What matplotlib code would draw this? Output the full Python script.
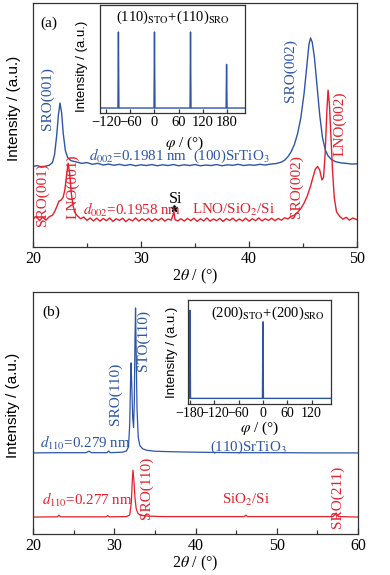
import numpy as np
import matplotlib
matplotlib.use("Agg")
import matplotlib.pyplot as plt
from matplotlib.ticker import MultipleLocator

plt.rcParams["font.family"] = ["Liberation Serif", "DejaVu Serif"]
plt.rcParams["mathtext.fontset"] = "stix"
plt.rcParams["font.size"] = 11

BLUE = "#2d55a5"
RED = "#e3202b"
FRAME = "#333333"

# ---- data ----
# panel (a): 2theta (deg), intensity (a.u., offset stacked)
a_blue = [(20.0, 33.0), (20.4, 33.4), (20.8, 32.7), (21.2, 33.2), (21.5, 33.5), (21.8, 34.6),
          (22.0, 38.0), (22.2, 46.0), (22.35, 54.0), (22.5, 59.0), (22.65, 55.0), (22.8, 46.5),
          (23.0, 39.5), (23.2, 36.8), (23.5, 35.4), (24.0, 34.9), (24.5, 34.3), (25.0, 34.6),
          (25.5, 33.9), (26.0, 34.3), (26.5, 33.6), (27.0, 34.0), (27.5, 33.5), (28.0, 33.9),
          (28.5, 33.4), (29.0, 33.8), (29.5, 33.3), (30.0, 33.7), (30.5, 33.4), (31.0, 33.8),
          (31.5, 33.3), (32.0, 33.7), (32.5, 33.4), (33.0, 33.8), (33.5, 33.3), (34.0, 33.7),
          (34.5, 33.4), (35.0, 33.8), (35.5, 33.3), (36.0, 33.6), (36.5, 33.4), (37.0, 33.8),
          (37.5, 33.3), (38.0, 33.7), (38.5, 33.5), (39.0, 33.9), (39.5, 33.4), (40.0, 33.7),
          (40.5, 33.5), (41.0, 33.9), (41.5, 33.6), (42.0, 34.0), (42.5, 34.2), (43.0, 34.8),
          (43.3, 35.6), (43.6, 37.0), (43.9, 39.0), (44.2, 42.0), (44.5, 46.5), (44.8, 53.0),
          (45.1, 63.0), (45.35, 74.0), (45.55, 83.0), (45.7, 85.7), (45.85, 84.0), (46.05, 78.0),
          (46.3, 66.0), (46.55, 54.0), (46.8, 45.0), (47.05, 40.0), (47.3, 37.5), (47.6, 36.0),
          (48.0, 35.0), (48.5, 34.5), (49.0, 34.3), (49.5, 34.0), (50.0, 34.1)]

a_red = [(20.0, 11.5), (20.3, 12.6), (20.6, 10.8), (20.9, 12.2), (21.2, 11.0), (21.5, 12.4),
         (21.8, 13.0), (22.0, 14.5), (22.2, 16.5), (22.4, 18.8), (22.6, 19.2), (22.8, 20.5),
         (22.95, 23.5), (23.1, 29.0), (23.25, 34.4), (23.4, 30.0), (23.55, 22.0), (23.7, 17.0),
         (23.9, 14.0), (24.1, 12.8), (24.4, 11.6), (24.7, 12.3), (25.0, 10.9), (25.3, 11.9),
         (25.6, 10.7), (25.9, 11.8), (26.2, 10.6), (26.5, 11.7), (26.8, 10.8), (27.1, 11.9),
         (27.4, 10.5), (27.7, 11.6), (28.0, 10.9), (28.3, 11.8), (28.6, 10.4), (28.9, 11.5),
         (29.2, 10.7), (29.5, 11.9), (29.8, 10.6), (30.1, 11.6), (30.4, 10.8), (30.7, 11.7),
         (31.0, 10.5), (31.3, 11.6), (31.6, 10.9), (31.9, 11.8), (32.2, 10.6), (32.5, 11.5),
         (32.8, 11.0), (32.95, 13.0), (33.05, 14.2), (33.15, 11.2), (33.4, 10.7), (33.7, 11.6),
         (34.0, 10.6), (34.3, 11.7), (34.6, 10.8), (34.9, 11.8), (35.2, 10.5), (35.5, 11.6),
         (35.8, 10.7), (36.1, 11.9), (36.4, 10.6), (36.7, 11.5), (37.0, 10.8), (37.3, 11.7),
         (37.6, 10.5), (37.9, 11.6), (38.2, 10.9), (38.5, 11.8), (38.8, 10.6), (39.1, 11.5),
         (39.4, 10.7), (39.7, 11.8), (40.0, 10.6), (40.3, 11.6), (40.6, 10.8), (40.9, 11.9),
         (41.2, 10.7), (41.5, 11.6), (41.8, 10.9), (42.1, 11.8), (42.4, 10.8), (42.7, 11.7),
         (43.0, 11.0), (43.3, 12.0), (43.6, 11.5), (43.9, 12.6), (44.2, 13.0), (44.5, 14.2),
         (44.8, 15.8), (45.1, 18.0), (45.4, 21.0), (45.7, 25.0), (45.95, 29.0), (46.15, 32.0),
         (46.35, 33.0), (46.55, 31.5), (46.75, 27.5), (46.9, 28.5), (47.05, 38.0), (47.2, 55.0),
         (47.32, 64.3), (47.45, 58.0), (47.6, 44.0), (47.75, 30.0), (47.9, 20.0), (48.1, 14.5),
         (48.4, 12.5), (48.7, 11.4), (49.0, 12.2), (49.3, 11.0), (49.6, 11.9), (50.0, 11.2)]

# panel (b)
b_blue = [(20.0, 33.5), (23.0, 33.6), (26.5, 33.6), (26.9, 34.2), (27.2, 33.6), (29.1, 33.6),
          (29.3, 34.3), (29.5, 33.6), (31.0, 33.8), (31.5, 34.3), (31.75, 36.0), (31.9, 45.0),
          (32.0, 62.0), (32.07, 70.7), (32.15, 62.0), (32.27, 48.0), (32.38, 44.0), (32.47, 55.0),
          (32.55, 80.0), (32.62, 93.4), (32.7, 75.0), (32.8, 52.0), (32.95, 40.0), (33.15, 36.5),
          (33.5, 35.2), (34.0, 34.6), (35.0, 34.2), (37.0, 34.0), (40.0, 33.8), (45.0, 33.6),
          (50.0, 33.6), (55.0, 33.5), (60.0, 33.5)]

b_red = [(20.0, 7.0), (23.0, 7.1), (23.2, 7.8), (23.4, 7.1), (29.0, 7.1), (29.2, 7.6),
         (29.4, 7.1), (31.5, 7.2), (31.9, 7.8), (32.1, 13.0), (32.22, 22.0), (32.3, 26.4),
         (32.4, 23.0), (32.55, 15.0), (32.7, 10.5), (32.9, 8.6), (33.2, 7.8), (34.0, 7.4),
         (36.0, 7.2), (46.0, 7.2), (46.2, 7.8), (46.4, 7.2), (56.9, 7.2), (57.15, 7.9),
         (57.3, 8.7), (57.45, 8.0), (57.6, 7.2), (60.0, 7.0)]

# phi scans (insets)
phi_a = [(-136, 0.046), (-91.2, 0.046), (-90, 0.75), (-88.8, 0.046), (-1.2, 0.046), (0, 0.75),
         (1.2, 0.046), (88.8, 0.046), (90, 0.75), (91.2, 0.046), (178.8, 0.046), (180, 0.45),
         (181.2, 0.046), (226, 0.046)]
phi_b = [(-185, 0.054), (-181.2, 0.054), (-180, 0.90), (-178.8, 0.054), (-1.2, 0.054), (0, 0.79),
         (1.2, 0.054), (168, 0.054)]


def xy(pairs):
    arr = np.array(pairs)
    return arr[:, 0], arr[:, 1]


def style_axes(ax, size=11.5):
    for s in ax.spines.values():
        s.set_color(FRAME)
        s.set_linewidth(0.9)
    ax.tick_params(axis="x", which="both", direction="in", top=False, colors=FRAME,
                   labelcolor="black", labelsize=size, pad=3)
    ax.tick_params(axis="x", which="major", length=4, width=0.9)
    ax.tick_params(axis="x", which="minor", length=3, width=0.9)
    ax.set_yticks([])


sans = ["Liberation Sans", "DejaVu Sans"]
DS = 10.8  # size of the d-spacing / substrate labels
fig = plt.figure(figsize=(3.9, 5.75), dpi=100)

# ---------------- panel (a) ----------------
ax = fig.add_axes([0.0846, 0.5704, 0.8308, 0.4243])
x, y = xy(a_blue)
ax.plot(x, y, color=BLUE, lw=1.0)
x, y = xy(a_red)
ax.plot(x, y, color=RED, lw=1.0)
ax.set_xlim(20, 50)
ax.set_ylim(0, 100)
ax.xaxis.set_major_locator(MultipleLocator(10))
ax.xaxis.set_minor_locator(MultipleLocator(5))
style_axes(ax)
ax.set_xlabel(r"2$\theta$ / (°)", fontsize=11.5, labelpad=0)
ax.set_ylabel("Intensity / (a.u.)", family=sans, fontsize=11)
ax.yaxis.set_label_coords(-0.037, 0.57)

ax.text(0.022, 0.918, "(a)", transform=ax.transAxes, ha="left", va="center", fontsize=11)
ax.text(21.3, 60.7, "SRO(001)", color=BLUE, rotation=90, ha="center", va="center")
ax.text(43.8, 72.5, "SRO(002)", color=BLUE, rotation=90, ha="center", va="center")
ax.text(25.2, 37.3, r"$d_{\mathrm{002}}$=0.1981 nm", color=BLUE, ha="left", va="center",
        fontsize=DS)
ax.text(34.8, 37.3, r"(100)SrTiO$_3$", color=BLUE, ha="left", va="center", fontsize=DS)
ax.text(48.4, 50.4, "LNO(002)", color=RED, rotation=90, ha="center", va="center")
ax.text(44.4, 24.6, "SRO(002)", color=RED, rotation=90, ha="center", va="center")
ax.text(20.9, 21.3, "SRO(001)", color=RED, rotation=90, ha="center", va="center")
ax.text(23.7, 24.6, "LNO(001)", color=RED, rotation=90, ha="center", va="center")
ax.text(24.6, 15.2, r"$d_{\mathrm{002}}$=0.1958 nm", color=RED, ha="left", va="center",
        fontsize=DS)
ax.text(34.7, 15.2, r"LNO/SiO$_2$/Si", color=RED, ha="left", va="center", fontsize=DS)
ax.text(33.2, 19.8, "Si", color="black", ha="center", va="center", fontsize=11.5)
ax.plot([33.1], [16.0], marker="*", color="black", ms=5)

# inset (a)
ins = fig.add_axes([0.2564, 0.8035, 0.3718, 0.1878])
x, y = xy(phi_a)
ins.plot(x, y, color=BLUE, lw=1.0)
ins.set_xlim(-136, 226)
ins.set_ylim(0, 1)
ins.set_xticks([-120, -60, 0, 60, 120, 180])
ins.set_xticklabels(["\u2212120", "\u221260", "0", "60", "120", "180"])
style_axes(ins, size=10.5)
ins.tick_params(axis="x", which="major", length=3, pad=2)
ins.set_xlabel(r"$\varphi$ / (°)", fontsize=11, labelpad=0)
ins.xaxis.set_label_coords(0.58, -0.2)
ins.set_ylabel("Intensity / (a.u.)", family=sans, fontsize=9.5)
ins.yaxis.set_label_coords(-0.085, 0.43)
ins.text(0.5, 0.89, r"(110)$_{\mathrm{STO}}$+(110)$_{\mathrm{SRO}}$", transform=ins.transAxes,
         ha="center", va="center", fontsize=10.5)

# ---------------- panel (b) ----------------
bx = fig.add_axes([0.0846, 0.0713, 0.8334, 0.4209])
x, y = xy(b_blue)
bx.plot(x, y, color=BLUE, lw=0.9)
x, y = xy(b_red)
bx.plot(x, y, color=RED, lw=0.9)
bx.set_xlim(20, 60)
bx.set_ylim(0, 100)
bx.xaxis.set_major_locator(MultipleLocator(10))
bx.xaxis.set_minor_locator(MultipleLocator(5))
style_axes(bx)
bx.set_xlabel(r"2$\theta$ / (°)", fontsize=11.5, labelpad=0)
bx.set_ylabel("Intensity / (a.u.)", family=sans, fontsize=11)
bx.yaxis.set_label_coords(-0.04, 0.53)

bx.text(0.03, 0.917, "(b)", transform=bx.transAxes, ha="left", va="center", fontsize=11)
bx.text(30.1, 58.0, "SRO(110)", color=BLUE, rotation=90, ha="center", va="center")
bx.text(33.6, 80.0, "STO(110)", color=BLUE, rotation=90, ha="center", va="center")
bx.text(20.9, 37.6, r"$d_{\mathrm{110}}$=0.279 nm", color=BLUE, ha="left", va="center",
        fontsize=DS)
bx.text(41.8, 36.0, r"(110)SrTiO$_3$", color=BLUE, ha="left", va="center", fontsize=DS)
bx.text(33.9, 19.0, "SRO(110)", color=RED, rotation=90, ha="center", va="center")
bx.text(21.1, 14.0, r"$d_{\mathrm{110}}$=0.277 nm", color=RED, ha="left", va="center",
        fontsize=DS)
bx.text(43.3, 14.0, r"SiO$_2$/Si", color=RED, ha="left", va="center", fontsize=DS)
bx.text(57.4, 15.3, "SRO(211)", color=RED, rotation=90, ha="center", va="center")

# inset (b)
inb = fig.add_axes([0.482, 0.2974, 0.3667, 0.1809])
x, y = xy(phi_b)
inb.plot(x, y, color=BLUE, lw=1.0)
inb.set_xlim(-185, 168)
inb.set_ylim(0, 1)
inb.set_xticks([-180, -120, -60, 0, 60, 120])
inb.set_xticklabels(["\u2212180", "\u2212120", "\u221260", "0", "60", "120"])
style_axes(inb, size=10)
inb.tick_params(axis="x", which="major", length=3, pad=2)
inb.set_xlabel(r"$\varphi$ / (°)", fontsize=11, labelpad=0)
inb.set_ylabel("Intensity / (a.u.)", family=sans, fontsize=9.5)
inb.yaxis.set_label_coords(-0.07, 0.5)
inb.text(0.56, 0.87, r"(200)$_{\mathrm{STO}}$+(200)$_{\mathrm{SRO}}$", transform=inb.transAxes,
         ha="center", va="center", fontsize=10.5)

fig.savefig("out.png", dpi=100)
